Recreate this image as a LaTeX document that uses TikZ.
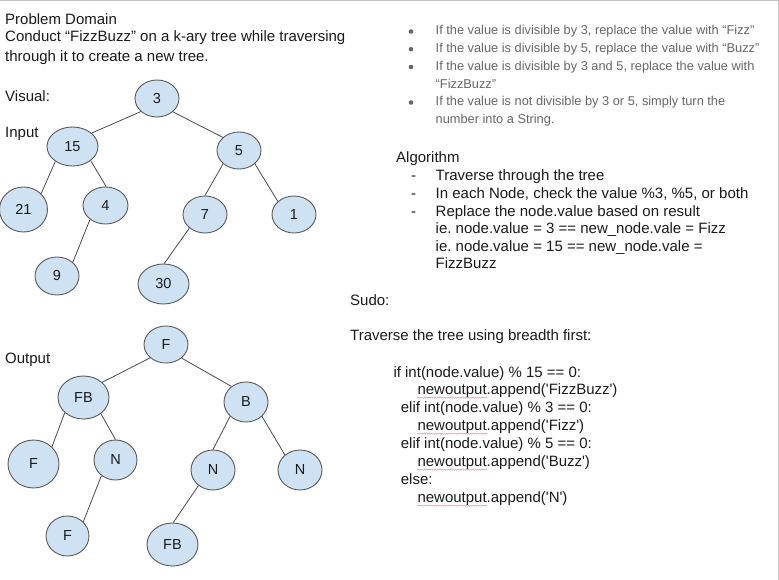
\documentclass[tikz,border=0pt]{standalone}
\usepackage{fontspec}
\setmainfont{Liberation Sans}
\usetikzlibrary{shapes.geometric,decorations.pathmorphing}
\definecolor{nodefill}{HTML}{CFE2F3}
\definecolor{nodeline}{HTML}{595959}
\definecolor{edgecol}{HTML}{4A4A4A}
\definecolor{txt}{HTML}{1A1A1A}
\definecolor{graytxt}{HTML}{666666}
\definecolor{framecol}{HTML}{C4C4C4}
\definecolor{squigcol}{HTML}{E49A9A}
\frenchspacing
\begin{document}
\begin{tikzpicture}[x=1pt,y=-1pt,
  tn/.style={ellipse,draw=nodeline,fill=nodefill,line width=0.9pt,inner sep=0pt,
    font=\fontsize{14.5}{16}\selectfont,text=txt},
  edge/.style={draw=edgecol,line width=0.8pt},
  lbl/.style={anchor=base west,inner sep=0pt,font=\fontsize{15}{18}\selectfont,text=txt},
  glbl/.style={anchor=base west,inner sep=0pt,font=\fontsize{12.8}{16}\selectfont,text=graytxt},
  bul/.style={fill=graytxt},
  squig/.style={draw=squigcol,line width=0.45pt,decorate,decoration={snake,amplitude=0.6pt,segment length=2.2pt}}]
\useasboundingbox (0,0) rectangle (779,580);
\draw[framecol,line width=1pt] (0,1) -- (778,1) -- (778,580);

% ---- left texts
\node[lbl] (t1) at (5,24.5) {Problem Domain};
\node[lbl] (t2) at (5,42) {Conduct “FizzBuzz” on a k-ary tree while traversing};
\node[lbl] (t3) at (5,62) {through it to create a new tree.};
\node[lbl] (t4) at (5,101.5) {Visual:};
\node[lbl] (t5) at (5,138) {Input};
\node[lbl] (t6) at (5,363) {Output};

% ---- input tree
\node[tn,minimum width=44pt,minimum height=37pt] (n3) at (157,98.5) {3};
\node[tn,minimum width=51pt,minimum height=39pt] (n15) at (72.5,146.5) {15};
\node[tn,minimum width=44pt,minimum height=37pt] (n5) at (239,150.5) {5};
\node[tn,minimum width=48pt,minimum height=45pt] (n21) at (23.5,209.5) {21};
\node[tn,minimum width=45pt,minimum height=37pt] (n4) at (105.5,205.5) {4};
\node[tn,minimum width=44pt,minimum height=37pt] (n7) at (205,214.5) {7};
\node[tn,minimum width=44pt,minimum height=37pt] (n1) at (294,214.5) {1};
\node[tn,minimum width=44pt,minimum height=38pt] (n9) at (57,276) {9};
\node[tn,minimum width=51pt,minimum height=40pt] (n30) at (163.5,284) {30};
\draw[edge] (n3.219) -- (n15.35);
\draw[edge] (n3.320) -- (n5.141);
\draw[edge] (n15.221) -- (n21.42);
\draw[edge] (n15.322) -- (n4.88);
\draw[edge] (n4.222) -- (n9.41);
\draw[edge] (n5.220) -- (n7.90);
\draw[edge] (n5.320) -- (n1.141);
\draw[edge] (n7.221) -- (n30.88);

% ---- output tree
\node[tn,minimum width=44pt,minimum height=37pt] (oF) at (166,344.5) {F};
\node[tn,minimum width=51pt,minimum height=43pt] (oFB) at (83.5,397.5) {FB};
\node[tn,minimum width=44pt,minimum height=40pt] (oB) at (246,402) {B};
\node[tn,minimum width=51pt,minimum height=48pt] (oF2) at (33.5,464) {F};
\node[tn,minimum width=43pt,minimum height=40pt] (oN) at (115.5,460) {N};
\node[tn,minimum width=44pt,minimum height=40pt] (oN2) at (213,470) {N};
\node[tn,minimum width=44pt,minimum height=40pt] (oN3) at (300,470) {N};
\node[tn,minimum width=43pt,minimum height=40pt] (oF3) at (67.5,536) {F};
\node[tn,minimum width=51pt,minimum height=43pt] (oFB2) at (172.5,544.5) {FB};
\draw[edge] (oF.220) -- (oFB.39);
\draw[edge] (oF.319) -- (oB.133);
\draw[edge] (oFB.219) -- (oF2.43);
\draw[edge] (oFB.317) -- (oN.90);
\draw[edge] (oN.228) -- (oF3.42);
\draw[edge] (oB.222) -- (oN2.90);
\draw[edge] (oB.318) -- (oN3.135);
\draw[edge] (oN2.227) -- (oFB2.88);

% ---- rules (gray bullets)
\fill[bul] (411,31.5) circle (2.3);
\fill[bul] (411,49.2) circle (2.3);
\fill[bul] (411,67) circle (2.3);
\fill[bul] (411,102.5) circle (2.3);
\node[glbl] (r1) at (435.5,35) {If the value is divisible by 3, replace the value with “Fizz”};
\node[glbl] (r2) at (435.5,52.7) {If the value is divisible by 5, replace the value with “Buzz”};
\node[glbl] (r3) at (435.5,70.5) {If the value is divisible by 3 and 5, replace the value with};
\node[glbl] (r4) at (435.5,88.3) {“FizzBuzz”};
\node[glbl] (r5) at (435.5,106) {If the value is not divisible by 3 or 5, simply turn the};
\node[glbl] (r6) at (435.5,124) {number into a String.};

% ---- algorithm
\node[lbl] (a0) at (396,163) {Algorithm};
\node[lbl] (d1) at (411,181) {-};
\node[lbl] (d2) at (411,198.6) {-};
\node[lbl] (d3) at (411,216.2) {-};
\node[lbl] (a1) at (435.5,181) {Traverse through the tree};
\node[lbl] (a2) at (435.5,198.6) {In each Node, check the value \%3, \%5, or both};
\node[lbl] (a3) at (435.5,216.2) {Replace the node.value based on result};
\node[lbl] (a4) at (435.5,233.8) {ie. node.value = 3 == new\_node.vale = Fizz};
\node[lbl] (a5) at (435.5,251.4) {ie. node.value = 15 == new\_node.vale =};
\node[lbl] (a6) at (435.5,269) {FizzBuzz};

% ---- pseudo code
\node[lbl] (s0) at (350,305) {Sudo:};
\node[lbl] (s1) at (350,340.7) {Traverse the tree using breadth first:};
\node[lbl] (c1) at (393.3,377.3) {if int(node.value) \% 15 == 0:};
\node[lbl] (c2) at (417.3,394) {newoutput.append(\textquotesingle FizzBuzz\textquotesingle)};
\node[lbl] (c3) at (400.7,412.3) {elif int(node.value) \% 3 == 0:};
\node[lbl] (c4) at (417.3,430) {newoutput.append(\textquotesingle Fizz\textquotesingle)};
\node[lbl] (c5) at (400.7,448.3) {elif int(node.value) \% 5 == 0:};
\node[lbl] (c6) at (417.3,466) {newoutput.append(\textquotesingle Buzz\textquotesingle)};
\node[lbl] (c7) at (400.7,484) {else:};
\node[lbl] (c8) at (417.3,502) {newoutput.append(\textquotesingle N\textquotesingle)};
\draw[squig] ([yshift=-3.6pt]c2.base west) -- ++(70,0);
\draw[squig] ([yshift=-3.6pt]c4.base west) -- ++(70,0);
\draw[squig] ([yshift=-3.6pt]c6.base west) -- ++(70,0);
\draw[squig] ([yshift=-3.6pt]c8.base west) -- ++(70,0);
\end{tikzpicture}
\end{document}
